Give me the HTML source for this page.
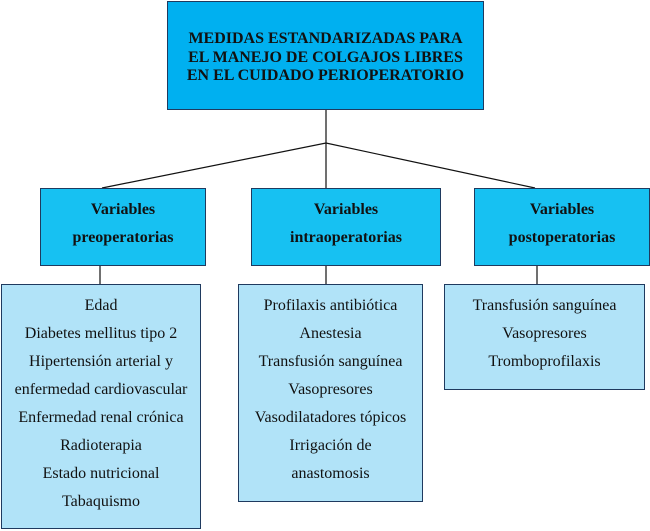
<!DOCTYPE html>
<html><head><meta charset="utf-8"><style>
body{margin:0;width:650px;height:531px;background:#fff;position:relative;overflow:hidden;font-family:"Liberation Serif",serif;color:#111}
.b{position:absolute;box-sizing:border-box;border:1.5px solid #1f3a5f;text-align:center}
.top{left:167px;top:1px;width:317px;height:109px;background:#00b0f0;font-weight:bold;font-size:16px;line-height:18.5px;padding-top:28px;white-space:nowrap}
.mid{top:188px;height:78px;background:#17c1f2;font-weight:bold;font-size:16px;line-height:28px;padding-top:7px}
.bot{top:284px;background:#b1e3f8;font-size:16px;line-height:28px;padding-top:7px}
svg{position:absolute;left:0;top:0}
</style></head><body>
<svg width="650" height="531"><g stroke="#111" stroke-width="1.2" fill="none">
<line x1="326" y1="110" x2="326" y2="188"/>
<polyline points="102,188 326,143 535,188"/>
<line x1="100" y1="260" x2="100" y2="284"/>
<line x1="326" y1="260" x2="326" y2="284"/>
<line x1="537" y1="260" x2="537" y2="284"/>
</g></svg>
<div class="b top">MEDIDAS ESTANDARIZADAS PARA<br>EL MANEJO DE COLGAJOS LIBRES<br>EN EL CUIDADO PERIOPERATORIO</div>
<div class="b mid" style="left:40px;width:166px">Variables<br>preoperatorias</div>
<div class="b mid" style="left:251px;width:190px">Variables<br>intraoperatorias</div>
<div class="b mid" style="left:474px;width:176px">Variables<br>postoperatorias</div>
<div class="b bot" style="left:1px;width:200px;height:245px">Edad<br>Diabetes mellitus tipo 2<br>Hipertensión arterial y<br>enfermedad cardiovascular<br>Enfermedad renal crónica<br>Radioterapia<br>Estado nutricional<br>Tabaquismo</div>
<div class="b bot" style="left:238px;width:185px;height:218px">Profilaxis antibiótica<br>Anestesia<br>Transfusión sanguínea<br>Vasopresores<br>Vasodilatadores tópicos<br>Irrigación de<br>anastomosis</div>
<div class="b bot" style="left:444px;width:201px;height:106px">Transfusión sanguínea<br>Vasopresores<br>Tromboprofilaxis</div>
</body></html>
